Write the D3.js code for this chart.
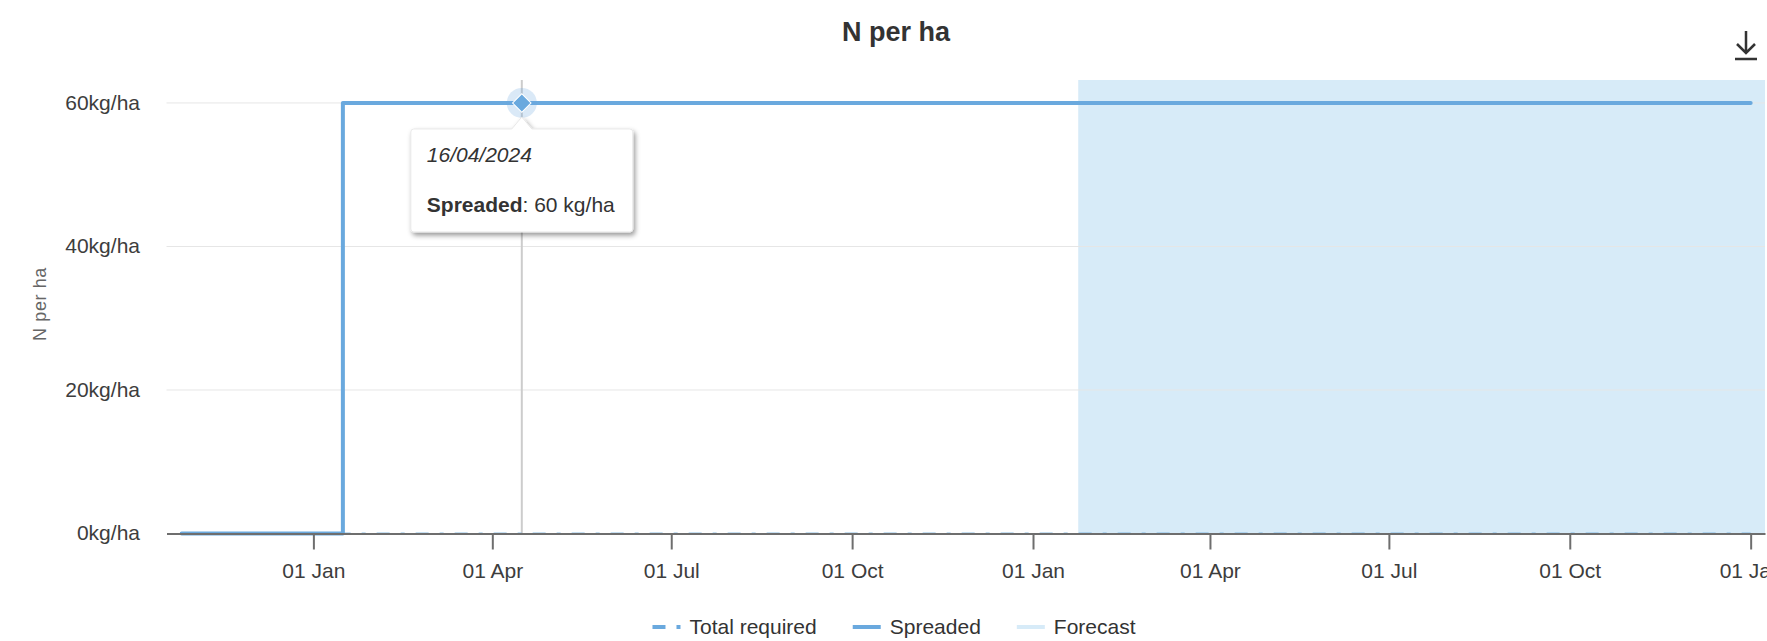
<!DOCTYPE html>
<html>
<head>
<meta charset="utf-8">
<script src="https://cdn.jsdelivr.net/npm/d3@7"></script>
<style>
  body { margin: 0; background: #fff; }
  text { font-family: "Liberation Sans", Arial, sans-serif; }
</style>
</head>
<body>
<div id="chart"></div>
<script>
// Data
const xDomain = ['2023-10-18T07:00:00Z', '2026-01-08T07:00:00Z'];
const xTickDates = ['2024-01-01', '2024-04-01', '2024-07-01', '2024-10-01', '2025-01-01', '2025-04-01', '2025-07-01', '2025-10-01', '2026-01-01'];
const yTicks = [0, 20, 40, 60];
const yMax = 63.2;

const spreadDates = ['2023-10-26', '2024-01-16', '2024-04-16', '2026-01-01'];
const spreadValues = [0, 60, 60, 60];

const requiredDates = ['2023-10-26', '2026-01-01'];
const requiredValues = [0, 0];

const forecastRange = ['2025-01-24', '2026-01-08T07:00:00Z'];

const hoverDate = '2024-04-16';
const hoverValue = 60;

const legendItems = ['Total required', 'Spreaded', 'Forecast'];

const lineColor = '#6aa9de';
const bandColor = '#d7ebf8';

const W = 1767, H = 641;
const plot = { left: 166.5, right: 1765, top: 80, bottom: 533.5 };

const svg = d3.select('#chart')
    .append('svg')
    .attr('width', W)
    .attr('height', H);

const defs = svg.append('defs');
const shadow = defs.append('filter').attr('id', 'shadow').attr('x', '-20%').attr('y', '-20%').attr('width', '140%').attr('height', '150%');
shadow.append('feDropShadow')
    .attr('dx', 2).attr('dy', 3).attr('stdDeviation', 2.5)
    .attr('flood-color', '#000').attr('flood-opacity', 0.4);

const x = d3.scaleUtc()
    .domain(xDomain.map(d => new Date(d)))
    .range([plot.left, plot.right]);

const y = d3.scaleLinear()
    .domain([0, yMax])
    .range([plot.bottom, plot.top]);

// forecast band
svg.append('rect')
    .attr('x', x(new Date(forecastRange[0])))
    .attr('y', plot.top)
    .attr('width', x(new Date(forecastRange[1])) - x(new Date(forecastRange[0])))
    .attr('height', plot.bottom - plot.top)
    .attr('fill', bandColor);

// grid
svg.append('g')
    .selectAll('line')
    .data(yTicks.filter(d => d > 0))
    .enter()
    .append('line')
    .attr('x1', plot.left)
    .attr('x2', plot.right)
    .attr('y1', d => y(d))
    .attr('y2', d => y(d))
    .attr('stroke', '#e6e6e6')
    .attr('stroke-width', 1);

// y labels
svg.append('g')
    .selectAll('text')
    .data(yTicks)
    .enter()
    .append('text')
    .attr('x', 140)
    .attr('y', d => y(d))
    .attr('dy', '0.32em')
    .attr('text-anchor', 'end')
    .style('font-size', '21px')
    .style('fill', '#3d3d3d')
    .text(d => d + 'kg/ha');

svg.append('text')
    .attr('transform', 'translate(46,304) rotate(-90)')
    .attr('text-anchor', 'middle')
    .style('font-size', '18px')
    .style('letter-spacing', '0.6px')
    .style('fill', '#666')
    .text('N per ha');

// crosshair
svg.append('line')
    .attr('x1', x(new Date(hoverDate)))
    .attr('x2', x(new Date(hoverDate)))
    .attr('y1', plot.top)
    .attr('y2', plot.bottom)
    .attr('stroke', '#cccccc')
    .attr('stroke-width', 2);

// series
const line = d3.line()
    .x(d => x(d.date))
    .y(d => y(d.value))
    .curve(d3.curveStepAfter);

const required = requiredDates.map((d, i) => ({ date: new Date(d), value: requiredValues[i] }));
const spread = spreadDates.map((d, i) => ({ date: new Date(d), value: spreadValues[i] }));

svg.append('path')
    .datum(required)
    .attr('d', line)
    .attr('fill', 'none')
    .attr('stroke', lineColor)
    .attr('stroke-opacity', 0.5)
    .attr('stroke-width', 2.5)
    .attr('stroke-dasharray', '13,11,4,11');

svg.append('path')
    .datum(spread)
    .attr('d', line)
    .attr('fill', 'none')
    .attr('stroke', lineColor)
    .attr('stroke-width', 4)
    .attr('stroke-linecap', 'round')
    .attr('stroke-linejoin', 'round');

// x axis
const xAxis = svg.append('g')
    .attr('transform', `translate(0,${plot.bottom})`)
    .call(d3.axisBottom(x)
        .tickValues(xTickDates.map(d => new Date(d)))
        .tickFormat(d3.utcFormat('%d %b'))
        .tickSize(16)
        .tickPadding(14)
        .tickSizeOuter(0));
xAxis.select('.domain').attr('stroke', '#6e6e6e').attr('stroke-width', 2);
xAxis.selectAll('.tick line').attr('stroke', '#6e6e6e').attr('stroke-width', 2);
xAxis.selectAll('.tick text')
    .style('font-size', '21px')
    .style('font-family', '"Liberation Sans", Arial, sans-serif')
    .style('fill', '#3d3d3d');

// hover marker
const hx = x(new Date(hoverDate)), hy = y(hoverValue);
svg.append('circle')
    .attr('cx', hx).attr('cy', hy).attr('r', 15)
    .attr('fill', lineColor).attr('fill-opacity', 0.25);
svg.append('path')
    .attr('d', d3.symbol(d3.symbolSquare, 170)())
    .attr('transform', `translate(${hx},${hy}) rotate(45)`)
    .attr('fill', lineColor)
    .attr('stroke', '#fff')
    .attr('stroke-width', 1);

// tooltip
const tip = svg.append('g')
    .attr('transform', `translate(${hx},${hy})`)
    .attr('filter', 'url(#shadow)');
const tw = 222, th = 103, tTop = 26;
tip.append('path')
    .attr('d', `M${-tw / 2 + 3},${tTop} L-10,${tTop} L0,${tTop - 12} L10,${tTop} L${tw / 2 - 3},${tTop}
        Q${tw / 2},${tTop} ${tw / 2},${tTop + 3} L${tw / 2},${tTop + th - 3} Q${tw / 2},${tTop + th} ${tw / 2 - 3},${tTop + th}
        L${-tw / 2 + 3},${tTop + th} Q${-tw / 2},${tTop + th} ${-tw / 2},${tTop + th - 3} L${-tw / 2},${tTop + 3}
        Q${-tw / 2},${tTop} ${-tw / 2 + 3},${tTop} Z`)
    .attr('fill', '#fff')
    .attr('stroke', '#e8e8e8')
    .attr('stroke-width', 1);

const tipText = svg.append('g').attr('transform', `translate(${hx - tw / 2 + 16},${hy})`);
tipText.append('text')
    .attr('y', 59)
    .style('font-size', '21px')
    .style('font-style', 'italic')
    .style('fill', '#333')
    .text(d3.utcFormat('%d/%m/%Y')(new Date(hoverDate)));
const line2 = tipText.append('text')
    .attr('y', 109)
    .style('font-size', '21px')
    .style('fill', '#333');
line2.append('tspan').style('font-weight', 'bold').text('Spreaded');
line2.append('tspan').text(`: ${hoverValue} kg/ha`);

// title
svg.append('text')
    .attr('x', 896)
    .attr('y', 41)
    .attr('text-anchor', 'middle')
    .style('font-size', '27px')
    .style('font-weight', 'bold')
    .style('fill', '#333')
    .text('N per ha');

// download icon
svg.append('path')
    .attr('d', 'M1746,31 L1746,53 M1737,44 L1746,53 L1755,44 M1735,59 L1757,59')
    .attr('fill', 'none')
    .attr('stroke', '#333')
    .attr('stroke-width', 2.5);

// legend
const legend = svg.append('g').attr('transform', 'translate(0,627)');
const legendStyles = [
    { color: lineColor, dash: '13,11,4,11' },
    { color: lineColor, dash: null },
    { color: bandColor, dash: null }
];
const items = legend.selectAll('g')
    .data(legendItems)
    .enter()
    .append('g');
items.append('line')
    .attr('x1', 0).attr('x2', 28)
    .attr('stroke', (d, i) => legendStyles[i].color)
    .attr('stroke-width', 4)
    .attr('stroke-dasharray', (d, i) => legendStyles[i].dash);
items.append('text')
    .attr('x', 37)
    .attr('y', 7)
    .style('font-size', '21px')
    .style('fill', '#333')
    .text(d => d);

const widths = [];
items.each(function () {
    widths.push(37 + this.querySelector('text').getComputedTextLength());
});
const totalW = d3.sum(widths) + 36 * (widths.length - 1);
let offset = 894 - totalW / 2;
items.attr('transform', (d, i) => {
    const t = `translate(${offset},0)`;
    offset += widths[i] + 36;
    return t;
});
</script>
</body>
</html>
